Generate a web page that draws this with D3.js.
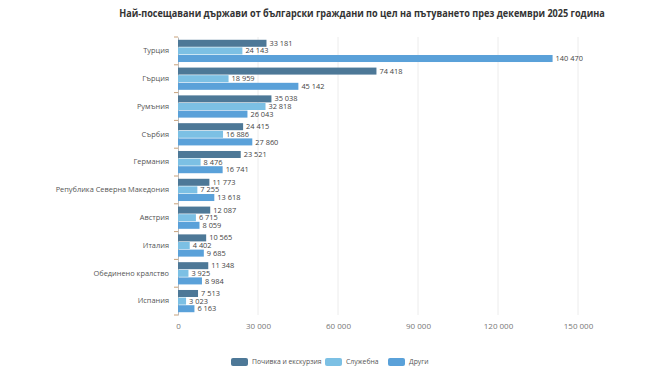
<!DOCTYPE html>
<html>
<head>
<meta charset="utf-8">
<script src="https://cdn.jsdelivr.net/npm/d3@7"></script>
<style>
  body { margin: 0; background: #fff; font-family: "Open Sans", "Noto Sans", sans-serif; }
  svg { display: block; }
</style>
</head>
<body>
<div id="chart"></div>
<script>
var countries = ["Турция", "Гърция", "Румъния", "Сърбия", "Германия", "Република Северна Македония", "Австрия", "Италия", "Обединено кралство", "Испания"];
var leisure = [33181, 74418, 35038, 24415, 23521, 11773, 12087, 10565, 11348, 7513];
var business = [24143, 18959, 32818, 16886, 8476, 7255, 6715, 4402, 3925, 3023];
var other = [140470, 45142, 26043, 27860, 16741, 13618, 8059, 9685, 8984, 6163];
var seriesNames = ["Почивка и екскурзия", "Служебна", "Други"];
var seriesColors = ["#4d7897", "#7cc0e4", "#5aa1d9"];
var xTicks = [0, 30000, 60000, 90000, 120000, 150000];

var W = 645, H = 371;
var margin = {top: 37, right: 67, bottom: 56, left: 178};
var width = W - margin.left - margin.right,
    height = H - margin.top - margin.bottom;
var font = "Open Sans, Noto Sans, sans-serif";

var svg = d3.select("#chart").append("svg")
    .attr("width", W).attr("height", H);

// title (squeezed horizontally to match the narrower original font)
var title = svg.append("text")
    .attr("x", 0).attr("y", 0)
    .attr("text-anchor", "middle")
    .attr("font-size", 10.5).attr("font-weight", "bold")
    .attr("fill", "#333")
    .text("Най-посещавани държави от български граждани по цел на пътуването през декември 2025 година");
var tw = title.node().getComputedTextLength();
title.attr("transform", "translate(362,17) scale(" + (486 / tw) + ",1)");

var g = svg.append("g").attr("transform", "translate(" + margin.left + "," + margin.top + ")");

var x = d3.scaleLinear().domain([0, 150000]).range([0, 400]);
var y = d3.scaleBand().domain(countries).range([0, height]).paddingInner(0.2).paddingOuter(0.1);
var ySub = d3.scaleBand().domain([0, 1, 2]).range([0, y.bandwidth()]).paddingInner(0.08);

// grid lines
g.selectAll(".grid").data(xTicks.slice(1)).enter().append("line")
    .attr("x1", function(d) { return x(d); }).attr("x2", function(d) { return x(d); })
    .attr("y1", 0).attr("y2", height)
    .attr("stroke", "#ececec").attr("stroke-width", 1);

// x axis labels
var xAxis = g.append("g").attr("transform", "translate(0," + height + ")")
    .call(d3.axisBottom(x).tickValues(xTicks).tickSize(0).tickPadding(8)
        .tickFormat(function(d) { return d3.format(",")(d).replace(/,/g, " "); }));
xAxis.select(".domain").remove();
xAxis.selectAll("text").attr("font-size", 8).attr("fill", "#777").attr("font-family", font);

// y axis
var yAxis = g.append("g")
    .call(d3.axisLeft(y).tickSize(0).tickPadding(9));
yAxis.select(".domain").attr("stroke", "#bbb");
yAxis.selectAll("text").attr("font-size", 7.4).attr("fill", "#555").attr("font-family", font);

// small tick marks between categories
var bounds = d3.range(countries.length + 1).map(function(i) { return i * (height / countries.length); });
g.selectAll(".ytick").data(bounds).enter().append("line")
    .attr("x1", -4).attr("x2", 0)
    .attr("y1", function(d) { return d; }).attr("y2", function(d) { return d; })
    .attr("stroke", "#c9a27a").attr("stroke-width", 1);

var seriesData = [leisure, business, other];
var fmt = function(v) { return d3.format(",")(v).replace(/,/g, " "); };

seriesData.forEach(function(values, s) {
    var rows = countries.map(function(c, i) { return {c: c, v: values[i]}; });
    g.selectAll(".bar" + s).data(rows).enter().append("rect")
        .attr("x", 0)
        .attr("y", function(d) { return y(d.c) + ySub(s); })
        .attr("width", function(d) { return x(d.v); })
        .attr("height", ySub.bandwidth())
        .attr("fill", seriesColors[s]);
    g.selectAll(".lbl" + s).data(rows).enter().append("text")
        .attr("x", function(d) { return x(d.v) + 3; })
        .attr("y", function(d) { return y(d.c) + ySub(s) + ySub.bandwidth() / 2; })
        .attr("dy", "0.35em")
        .attr("font-size", 7.4).attr("fill", "#444")
        .text(function(d) { return fmt(d.v); });
});

// legend
var legendX = [231, 325, 388];
var lg = svg.append("g").attr("transform", "translate(0,362)");
seriesNames.forEach(function(n, i) {
    lg.append("rect").attr("x", legendX[i]).attr("y", -4).attr("width", 17).attr("height", 8)
        .attr("rx", 2).attr("fill", seriesColors[i]);
    lg.append("text").attr("x", legendX[i] + 21).attr("y", 0).attr("dy", "0.35em")
        .attr("font-size", 6.8).attr("fill", "#555").text(n);
});
</script>
</body>
</html>
